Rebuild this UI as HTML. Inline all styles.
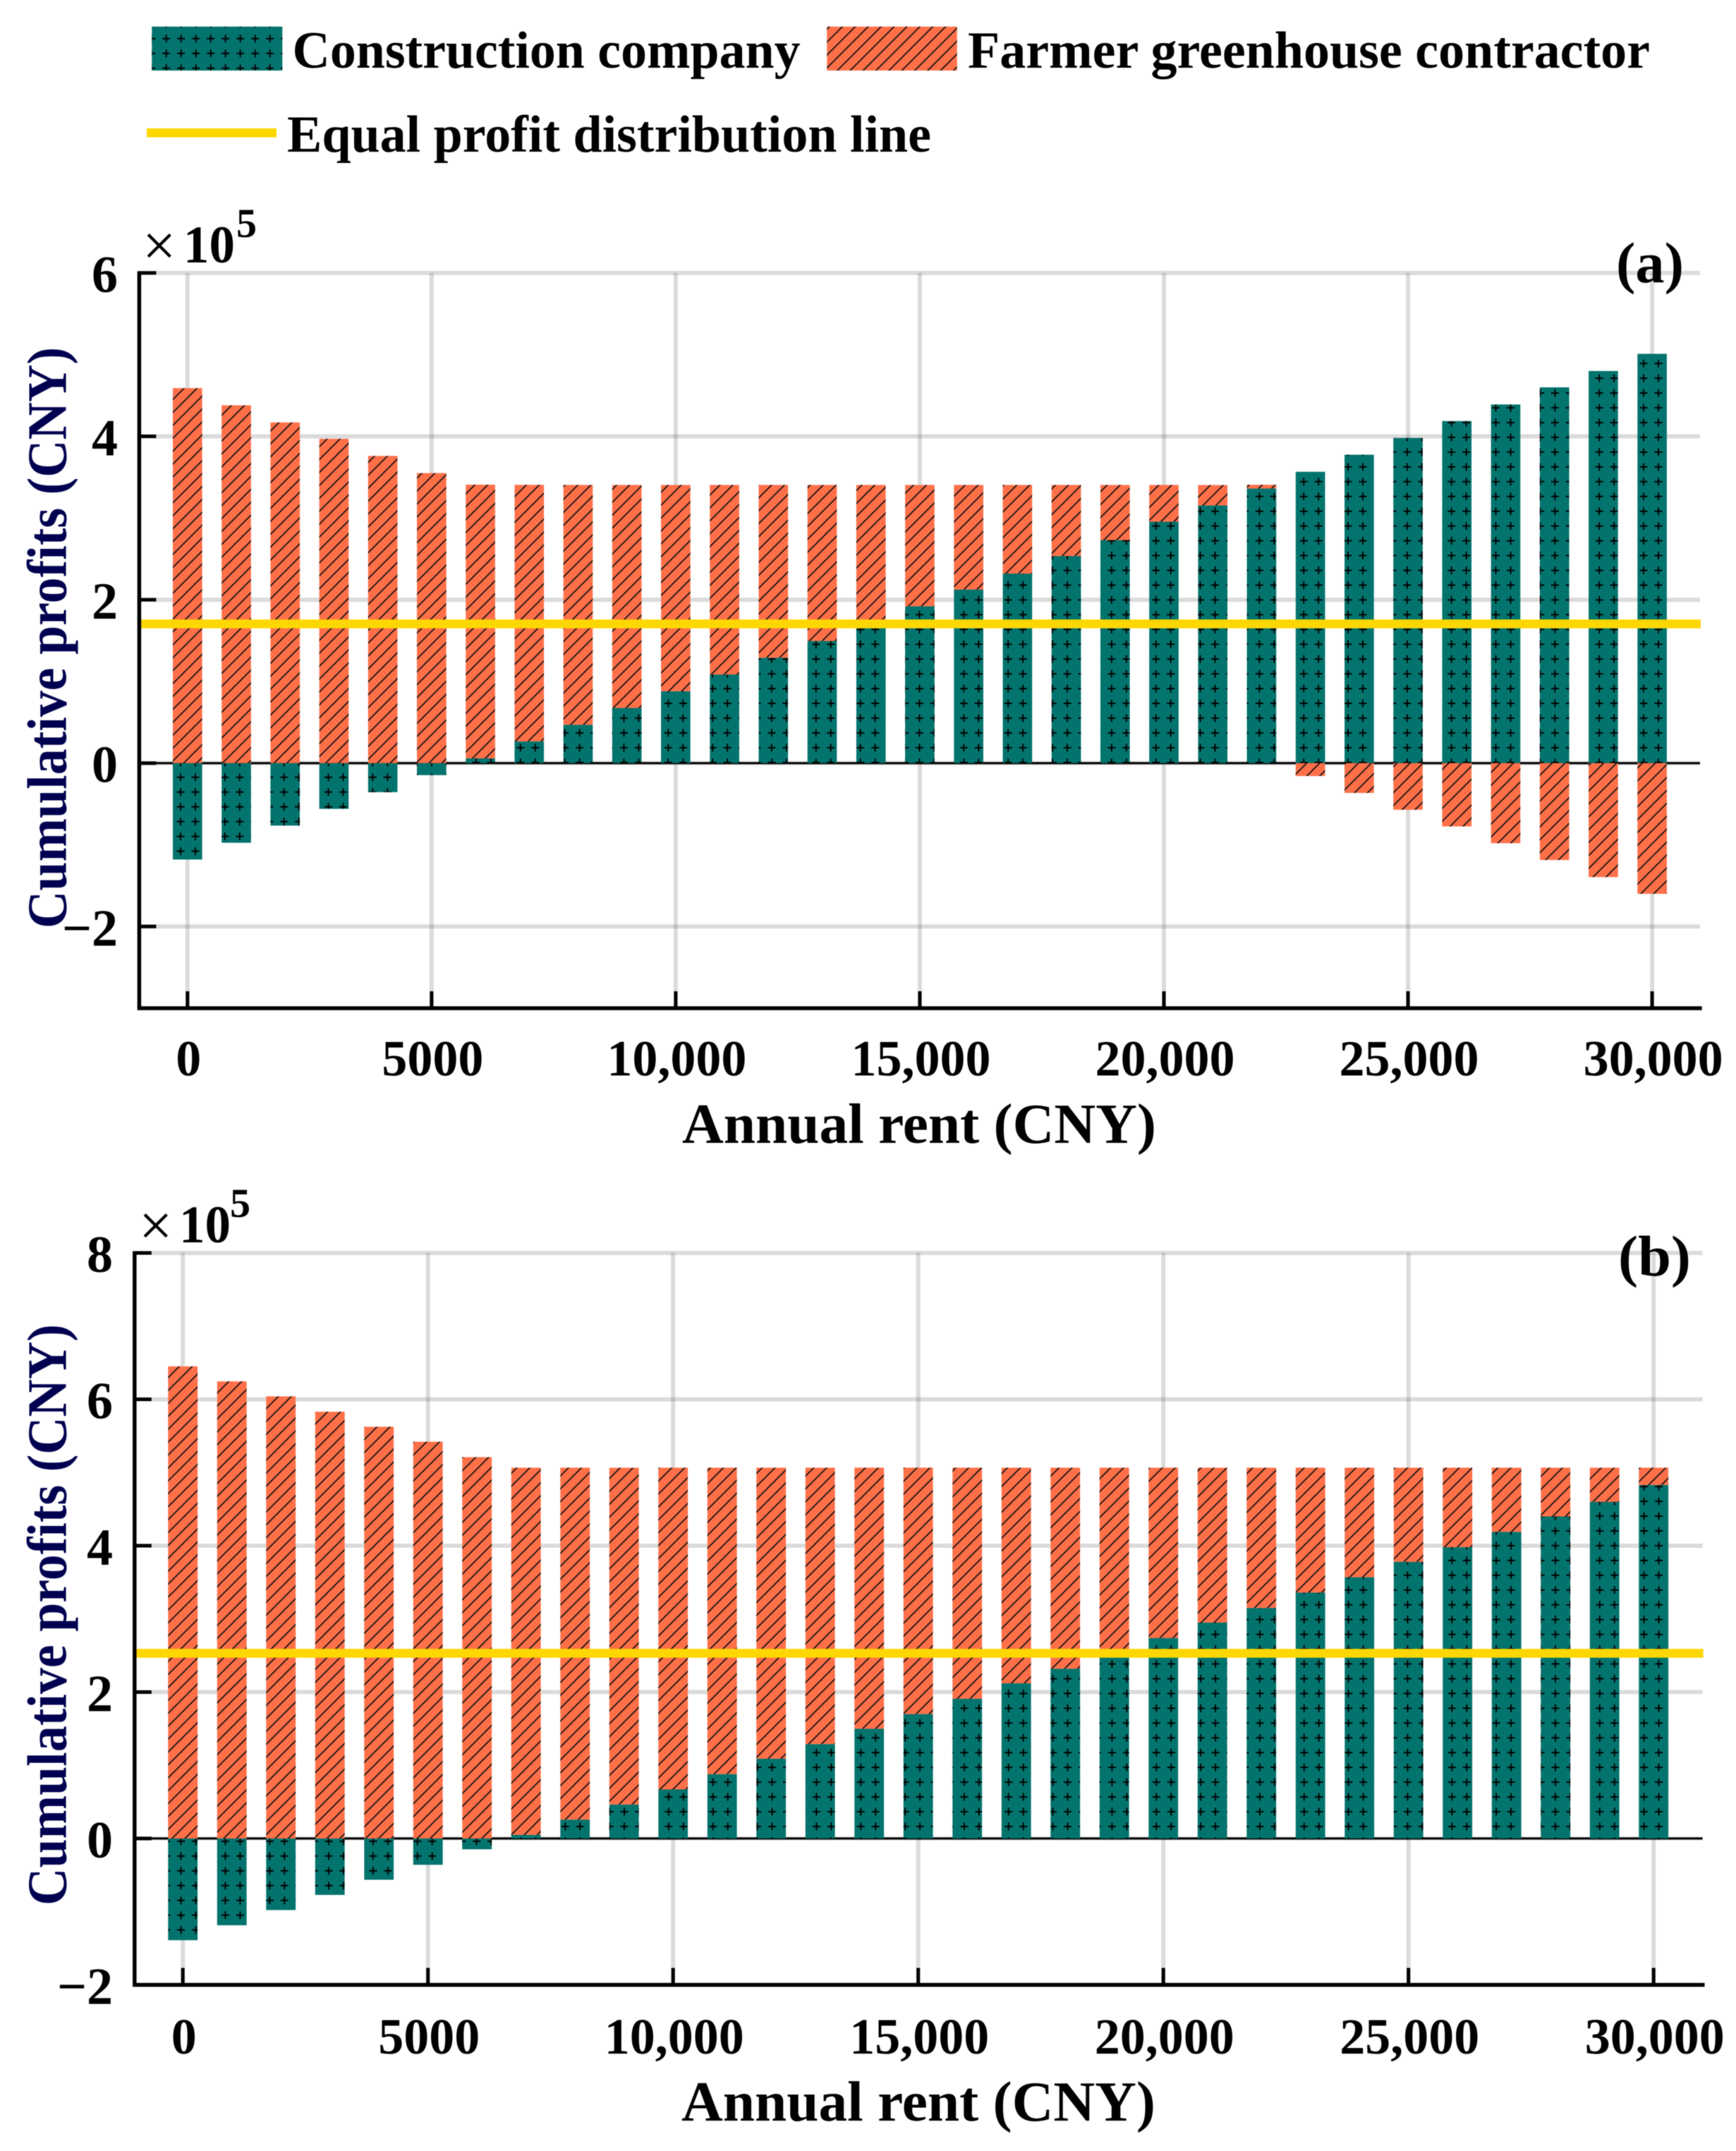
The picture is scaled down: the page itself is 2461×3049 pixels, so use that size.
<!DOCTYPE html>
<html lang="en">
<head>
<meta charset="utf-8">
<title>Cumulative profits versus annual rent</title>
<style>
html,body{margin:0;padding:0;background:#fff;}
#figure{display:block;width:2461px;height:3049px;filter:blur(0.5px);}
text{font-family:"Liberation Serif",serif;font-weight:bold;fill:#000;}
.ylab{fill:#000050;}
</style>
</head>
<body>
<svg id="figure" xmlns="http://www.w3.org/2000/svg" width="2461" height="3049" viewBox="0 0 2461 3049">
  <defs>
    <pattern id="plus-legend" patternUnits="userSpaceOnUse" x="225.2" y="44.2" width="21" height="21">
      <path d="M5,10.5H16M10.5,5V16" stroke="#000" stroke-width="1.9" fill="none"/>
    </pattern>
    <pattern id="plus-a" patternUnits="userSpaceOnUse" x="245.5" y="1091.3" width="20.95" height="20.95">
      <path d="M5,10.47H16M10.47,5V16" stroke="#000" stroke-width="1.9" fill="none"/>
    </pattern>
    <pattern id="plus-b" patternUnits="userSpaceOnUse" x="246.1" y="2599.5" width="20.95" height="20.95">
      <path d="M5,10.47H16M10.47,5V16" stroke="#000" stroke-width="1.9" fill="none"/>
    </pattern>
    <pattern id="hatch-legend" patternUnits="userSpaceOnUse" x="1195.4" y="0" width="18.3" height="18.3">
      <path d="M-2,20.3L20.3,-2M-1,1L1,-1M17.3,19.3L19.3,17.3" stroke="#111" stroke-width="1.8" fill="none"/>
    </pattern>
    <pattern id="hatch-a" patternUnits="userSpaceOnUse" x="1232.3" y="0" width="18.3" height="18.3">
      <path d="M-2,20.3L20.3,-2M-1,1L1,-1M17.3,19.3L19.3,17.3" stroke="#111" stroke-width="1.8" fill="none"/>
    </pattern>
    <pattern id="hatch-b" patternUnits="userSpaceOnUse" x="2758.4" y="0" width="18.3" height="18.3">
      <path d="M-2,20.3L20.3,-2M-1,1L1,-1M17.3,19.3L19.3,17.3" stroke="#111" stroke-width="1.8" fill="none"/>
    </pattern>
  </defs>

  <g>
    <g>
      <rect x="215.3" y="37.7" width="185" height="62.3" fill="#03736d"/>
      <rect x="215.3" y="37.7" width="185" height="62.3" fill="url(#plus-legend)"/>
      <text x="414.5" y="96" font-size="74" textLength="720" lengthAdjust="spacingAndGlyphs">Construction company</text>
    </g>
    <g>
      <rect x="1172.3" y="37.7" width="184.4" height="62.3" fill="#ff7049"/>
      <rect x="1172.3" y="37.7" width="184.4" height="62.3" fill="url(#hatch-legend)"/>
      <text x="1372" y="96" font-size="74" textLength="967" lengthAdjust="spacingAndGlyphs">Farmer greenhouse contractor</text>
    </g>
    <g>
      <rect x="208" y="182" width="184" height="12.6" fill="#ffd700"/>
      <text x="407" y="215" font-size="74" textLength="913" lengthAdjust="spacingAndGlyphs">Equal profit distribution line</text>
    </g>
  </g>

  <g id="panel-a">
    <g id="panel-a-grid"></g>
    <g id="panel-a-bars"></g>
    <g id="panel-a-axes"></g>
    <text x="202" y="376" font-size="84" style="font-weight:normal">×</text>
    <text x="260" y="372" font-size="75" textLength="73" lengthAdjust="spacingAndGlyphs">10</text>
    <text x="335" y="336" font-size="58">5</text>
    <text x="2291" y="400" font-size="82" textLength="96" lengthAdjust="spacingAndGlyphs">(a)</text>
    <text class="ylab" transform="translate(93.4,1316) rotate(-90)" x="0" y="0" font-size="79" textLength="824" lengthAdjust="spacingAndGlyphs">Cumulative profits (CNY)</text>
    <text x="967" y="1620" font-size="81" textLength="672" lengthAdjust="spacingAndGlyphs">Annual rent (CNY)</text>
  </g>

  <g id="panel-b">
    <g id="panel-b-grid"></g>
    <g id="panel-b-bars"></g>
    <g id="panel-b-axes"></g>
    <text x="197" y="1765" font-size="84" style="font-weight:normal">×</text>
    <text x="254" y="1761" font-size="75" textLength="73" lengthAdjust="spacingAndGlyphs">10</text>
    <text x="326" y="1725" font-size="58">5</text>
    <text x="2294" y="1808" font-size="82" textLength="103" lengthAdjust="spacingAndGlyphs">(b)</text>
    <text class="ylab" transform="translate(93.4,2701) rotate(-90)" x="0" y="0" font-size="79" textLength="824" lengthAdjust="spacingAndGlyphs">Cumulative profits (CNY)</text>
    <text x="966" y="3006" font-size="81" textLength="672" lengthAdjust="spacingAndGlyphs">Annual rent (CNY)</text>
  </g>
</svg>

<script>
var rentCategories = [0,1000,2000,3000,4000,5000,6000,7000,8000,9000,10000,11000,12000,13000,14000,15000,16000,17000,18000,19000,20000,21000,22000,23000,24000,25000,26000,27000,28000,29000,30000];
var xTickValues = [0,5000,10000,15000,20000,25000,30000];
var xTickLabels = ['0','5000','10,000','15,000','20,000','25,000','30,000'];

var yTickValuesA = [6,4,2,0,-2];
var yTickLabelsA = ['6','4','2','0','\u22122'];
var constructionA = [-1.18,-0.975,-0.765,-0.56,-0.355,-0.147,0.058,0.266,0.47,0.675,0.88,1.085,1.29,1.495,1.70,1.92,2.125,2.32,2.535,2.73,2.955,3.154,3.362,3.566,3.775,3.98,4.187,4.39,4.60,4.80,5.01];
var farmerA = [4.59,4.38,4.17,3.97,3.76,3.55,3.35,3.14,2.935,2.73,2.525,2.32,2.115,1.91,1.705,1.485,1.28,1.085,0.87,0.675,0.45,0.25,0.045,-0.158,-0.365,-0.571,-0.775,-0.98,-1.186,-1.395,-1.60];
var equalProfitA = 1.704;

var yTickValuesB = [8,6,4,2,0,-2];
var yTickLabelsB = ['8','6','4','2','0','\u22122'];
var constructionB = [-1.39,-1.186,-0.978,-0.771,-0.564,-0.36,-0.148,0.05,0.258,0.465,0.67,0.88,1.09,1.29,1.50,1.70,1.91,2.12,2.32,2.53,2.74,2.95,3.15,3.36,3.57,3.78,3.98,4.19,4.40,4.60,4.83];
var farmerB = [6.45,6.245,6.04,5.83,5.625,5.42,5.21,5.016,4.808,4.60,4.396,4.186,3.976,3.776,3.566,3.366,3.156,2.946,2.746,2.536,2.326,2.116,1.916,1.706,1.496,1.286,1.086,0.876,0.666,0.466,0.236];
var equalProfitB = 2.53;

var SVG_NS = 'http://www.w3.org/2000/svg';

function make(parent, tag, attrs, content) {
  var el = document.createElementNS(SVG_NS, tag);
  for (var k in attrs) { el.setAttribute(k, attrs[k]); }
  if (content !== undefined) { el.textContent = content; }
  parent.appendChild(el);
  return el;
}

function drawPanel(p, rents, construction, farmer, equalValue, yVals, yLabels) {
  var xScale = function (v) { return p.x0 + v * p.xPerUnit; };
  var yScale = function (v) { return p.y0 - v * p.yPerUnit; };
  var grid = document.getElementById('panel-' + p.id + '-grid');
  var bars = document.getElementById('panel-' + p.id + '-bars');
  var axes = document.getElementById('panel-' + p.id + '-axes');
  var baseline = yScale(p.yMin);

  yVals.forEach(function (v, i) {
    var g = make(grid, 'line', {x1: p.axisX, x2: p.gridEnd, y1: yScale(v), y2: yScale(v), stroke: '#000', 'stroke-opacity': 0.14, 'stroke-width': 6});
    
    
  });
  xTickValues.forEach(function (v) {
    var g = make(grid, 'line', {x1: xScale(v), x2: xScale(v), y1: yScale(p.yMax), y2: baseline, stroke: '#000', 'stroke-opacity': 0.14, 'stroke-width': 6});
    
    
  });

  var zero = make(grid, 'line', {x1: p.axisX, x2: p.gridEnd, y1: yScale(0), y2: yScale(0), stroke: '#000', 'stroke-width': 3});
  
  

  function segment(parent, x, a, b, color, overlay) {
    var top = Math.min(yScale(a), yScale(b));
    var h = Math.abs(yScale(a) - yScale(b));
    var r1 = make(parent, 'rect', {x: x - p.barW / 2, y: top, width: p.barW, height: h, fill: color});
    
    
    var r2 = make(parent, 'rect', {x: x - p.barW / 2, y: top, width: p.barW, height: h, fill: 'url(#' + overlay + ')'});
    
    
  }

  rents.forEach(function (rent, i) {
    var bar = make(bars, 'g', {});
    
    
    var c = construction[i], f = farmer[i];
    var cx = xScale(rent);
    segment(bar, cx, 0, c, '#03736d', 'plus-' + p.id);
    var fBase = (c > 0 && f > 0) ? c : ((c < 0 && f < 0) ? c : 0);
    segment(bar, cx, fBase, fBase + f, '#ff7049', 'hatch-' + p.id);
  });

  var eq = make(bars, 'line', {x1: p.axisX, x2: p.gridEnd + 1, y1: yScale(equalValue), y2: yScale(equalValue), stroke: '#ffd700', 'stroke-width': 12.5});
  
  

  var ax = make(axes, 'line', {x1: p.axisX, x2: p.axisX, y1: yScale(p.yMax) - 2.5, y2: baseline + 2.5, stroke: '#000', 'stroke-width': 5.5});
  
  
  var bx = make(axes, 'line', {x1: p.axisX - 2.5, x2: p.axisEnd, y1: baseline, y2: baseline, stroke: '#000', 'stroke-width': 5.5});
  
  

  yVals.forEach(function (v, i) {
    var t = make(axes, 'line', {x1: p.axisX, x2: p.axisX + 24, y1: yScale(v), y2: yScale(v), stroke: '#000', 'stroke-width': 5});
    
    
    var l = make(axes, 'text', {x: p.yLabelRight, y: yScale(v) + 27, 'font-size': 74, 'text-anchor': 'end'}, yLabels[i]);
    
    
  });
  xTickValues.forEach(function (v, i) {
    var t = make(axes, 'line', {x1: xScale(v), x2: xScale(v), y1: baseline, y2: baseline - 24, stroke: '#000', 'stroke-width': 5});
    
    
    var l = make(axes, 'text', {x: xScale(v) + 1.5, y: p.xLabelY, 'font-size': 72, 'text-anchor': 'middle'}, xTickLabels[i]);
    
    
  });
}

drawPanel({id: 'a', x0: 265.8, xPerUnit: 0.06921, y0: 1081.7, yPerUnit: 115.8, yMin: -3, yMax: 6, axisX: 197.4, gridEnd: 2410, axisEnd: 2412.6, barW: 41.6, yLabelRight: 167, xLabelY: 1524.5},
  rentCategories, constructionA, farmerA, equalProfitA, yTickValuesA, yTickLabelsA);
drawPanel({id: 'b', x0: 259.2, xPerUnit: 0.0695, y0: 2606, yPerUnit: 103.75, yMin: -2, yMax: 8, axisX: 190.8, gridEnd: 2413.6, axisEnd: 2416.5, barW: 41.8, yLabelRight: 160, xLabelY: 2911},
  rentCategories, constructionB, farmerB, equalProfitB, yTickValuesB, yTickLabelsB);
</script>
</body>
</html>
